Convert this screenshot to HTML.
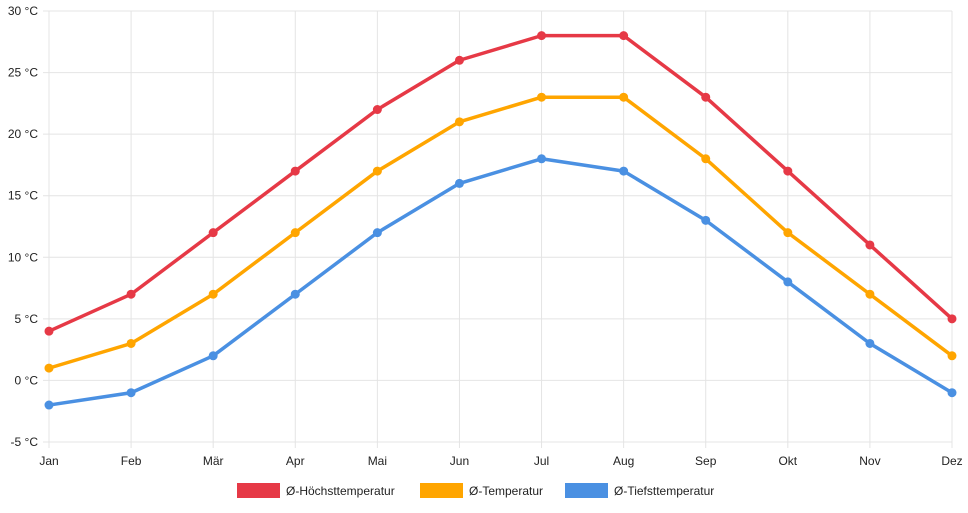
<!DOCTYPE html>
<html><head><meta charset="utf-8"><style>
body{margin:0;background:#fff;font-family:"Liberation Sans",sans-serif}
svg text{font-family:"Liberation Sans",sans-serif;font-size:12px;fill:#222}
</style></head><body>
<svg id="chart" width="968" height="508"></svg>
<script>
const months=["Jan","Feb","Mär","Apr","Mai","Jun","Jul","Aug","Sep","Okt","Nov","Dez"];
const highs=[4,7,12,17,22,26,28,28,23,17,11,5];
const avgs=[1,3,7,12,17,21,23,23,18,12,7,2];
const lows=[-2,-1,2,7,12,16,18,17,13,8,3,-1];
const yTicks=[-5,0,5,10,15,20,25,30];
const seriesNames=["Ø-Höchsttemperatur","Ø-Temperatur","Ø-Tiefsttemperatur"];
const colors=["#e63946","#ffa500","#4a90e2"];
const NS="http://www.w3.org/2000/svg";
const svg=document.getElementById('chart');
const x0=49,x1=952,yTop=11,yBot=442,yMin=-5,yMax=30;
const xs=i=>x0+i*(x1-x0)/(months.length-1);
const ys=v=>yBot-(v-yMin)/(yMax-yMin)*(yBot-yTop);
function mk(t,a){const e=document.createElementNS(NS,t);for(const k in a)e.setAttribute(k,a[k]);svg.appendChild(e);return e;}
yTicks.forEach(v=>{
 const l=mk('line',{x1:x0-6,x2:x1,y1:ys(v),y2:ys(v),stroke:'#e4e4e4'});
 
 
 const t=mk('text',{x:38,y:ys(v)+4,'text-anchor':'end'});t.textContent=v+' °C';
 
 
});
months.forEach((m,i)=>{
 const l=mk('line',{x1:xs(i),x2:xs(i),y1:yTop,y2:yBot+6,stroke:'#e4e4e4'});
 
 
 const t=mk('text',{x:xs(i),y:465,'text-anchor':'middle'});t.textContent=m;
 
 
});
[highs,avgs,lows].forEach((d,s)=>{
 const p=mk('polyline',{points:d.map((v,i)=>xs(i)+','+ys(v)).join(' '),fill:'none',stroke:colors[s],'stroke-width':3.5,'stroke-linejoin':'round'});
 
 
 d.forEach((v,i)=>{
  const c=mk('circle',{cx:xs(i),cy:ys(v),r:4.5,fill:colors[s]});
  
  
 });
});
const lx=[237,420,565];
seriesNames.forEach((n,s)=>{
 const r=mk('rect',{x:lx[s],y:483,width:43,height:15,fill:colors[s]});
 
 
 const t=mk('text',{x:lx[s]+49,y:495});t.textContent=n;
 
 
});
</script>
</body></html>
